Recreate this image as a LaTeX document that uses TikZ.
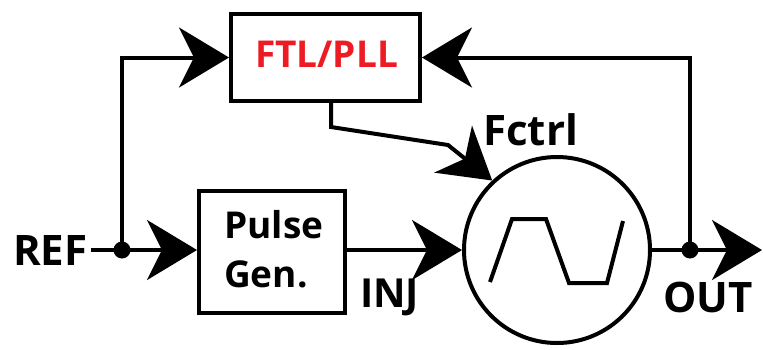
\documentclass[tikz,border=0pt]{standalone}
\usepackage{fontspec}
\setmainfont{Open Sans}
\usetikzlibrary{arrows.meta}
\definecolor{ftlred}{RGB}{237,28,36}
\begin{document}
\begin{tikzpicture}[x=1pt,y=-1pt,
  wire/.style={line width=4pt},
  arr/.style={wire,-{Stealth[length=50pt,width=60pt,inset=15pt]}},
  blockbox/.style={draw,line width=4pt,inner sep=0pt},
  lbl/.style={font=\bfseries\fontsize{42}{46}\selectfont,inner sep=0pt,anchor=base west},
  junction/.style={circle,fill,inner sep=0pt,minimum size=17pt}]
\useasboundingbox (0,0) rectangle (763,349);

% blocks
\node[blockbox,minimum width=189pt,minimum height=87pt] (ftl) at (325.5,57.5) {};
\node[font=\bfseries\fontsize{37}{42}\selectfont,text=ftlred,inner sep=0pt,anchor=base]
  (ftltext) at (326.5,67) {FTL/PLL};
\node[blockbox,minimum width=146pt,minimum height=122pt] (pg) at (272,252) {};
\node[font=\bfseries\fontsize{37}{49}\selectfont,align=left,inner sep=0pt,anchor=base west]
  (pgtext) at (224,287) {Pulse\\Gen.};
\node[draw,circle,line width=4pt,minimum size=186pt,inner sep=0pt] (osc) at (557,250) {};

% waveform inside the oscillator
\draw[wire,line join=miter] (490,282) -- (512,219) -- (546,219) -- (569,283) -- (607,283) -- (623,221);

% labels
\node[lbl] (ref) at (13,265) {REF};
\node[lbl,font=\bfseries\fontsize{40}{44}\selectfont] (inj) at (360,307) {INJ};
\node[lbl] (out) at (663,312) {OUT};
\node[lbl] (fctrl) at (483,145) {Fctrl};

% junctions and helper points
\node[junction] (jl) at (122,250) {};
\node[junction] (jr) at (690,250) {};
\coordinate (fdrop) at (331,101);
\coordinate (fbend) at (331,127);
\coordinate (fknee) at (448,145);
\coordinate (outend) at (762,250);
\coordinate (refend) at (91,250);

% connectors
\draw[wire] (refend) -- (jl.center);
\draw[arr] (jl.center) -- (pg.west |- jl);
\draw[arr] (jl.center) |- (ftl.west);
\draw[arr] (pg.east |- jl) -- (osc.west);
\draw[wire] (osc.east) -- (jr.center);
\draw[arr] (jr.center) -- (outend);
\draw[arr] (jr.center) |- (ftl.east);
\draw[arr] (fdrop) -- (fbend) -- (fknee) -- (osc.133);
\end{tikzpicture}
\end{document}
